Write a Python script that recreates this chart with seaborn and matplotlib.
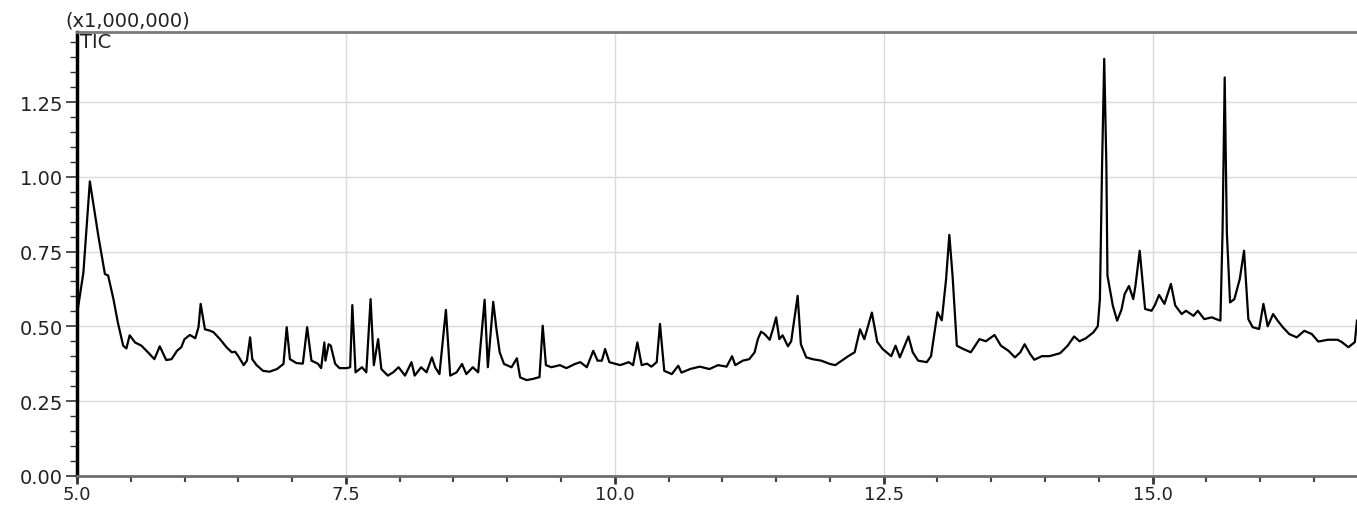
import pandas as pd
import matplotlib.pyplot as plt
from matplotlib.ticker import MultipleLocator, FormatStrFormatter
import seaborn as sns


# retention time (min) and TIC intensity (x1,000,000)
rt = [
    5.00, 5.005, 5.06, 5.12, 5.20, 5.26, 5.29, 5.34, 5.38, 5.43, 5.46, 5.49, 5.54,
    5.60, 5.66, 5.72, 5.77, 5.83, 5.88, 5.93, 5.97, 6.00, 6.05, 6.10, 6.13, 6.15,
    6.19, 6.24, 6.27, 6.33, 6.39, 6.44, 6.47, 6.50, 6.55, 6.58, 6.61, 6.63, 6.67,
    6.73, 6.79, 6.86, 6.92, 6.95, 6.98, 7.04, 7.10, 7.14, 7.18, 7.24, 7.27, 7.30,
    7.31, 7.34, 7.36, 7.40, 7.44, 7.51, 7.54, 7.56, 7.59, 7.65, 7.69, 7.73, 7.76,
    7.80, 7.83, 7.89, 7.94, 7.99, 8.05, 8.11, 8.14, 8.20, 8.25, 8.30, 8.33, 8.37,
    8.43, 8.47, 8.53, 8.58, 8.62, 8.68, 8.73, 8.79, 8.82, 8.87, 8.90, 8.93, 8.97,
    9.04, 9.09, 9.12, 9.18, 9.24, 9.30, 9.33, 9.36, 9.41, 9.49, 9.55, 9.63, 9.68,
    9.74, 9.80, 9.84, 9.88, 9.91, 9.95, 10.05, 10.13, 10.17, 10.21, 10.25, 10.30,
    10.34, 10.39, 10.42, 10.46, 10.53, 10.59, 10.62, 10.70, 10.79, 10.88, 10.96,
    11.04, 11.09, 11.12, 11.19, 11.25, 11.30, 11.33, 11.36, 11.39, 11.44, 11.47,
    11.50, 11.53, 11.56, 11.61, 11.64, 11.70, 11.73, 11.78, 11.84, 11.92, 12.00,
    12.05, 12.11, 12.17, 12.23, 12.28, 12.32, 12.39, 12.44, 12.49, 12.57, 12.61,
    12.65, 12.73, 12.77, 12.82, 12.90, 12.94, 13.00, 13.04, 13.08, 13.11, 13.14,
    13.18, 13.24, 13.31, 13.39, 13.45, 13.53, 13.59, 13.66, 13.72, 13.77, 13.81,
    13.86, 13.90, 13.97, 14.04, 14.14, 14.21, 14.27, 14.32, 14.38, 14.45, 14.49,
    14.51, 14.53, 14.55, 14.57, 14.58, 14.63, 14.67, 14.71, 14.74, 14.78, 14.82,
    14.84, 14.88, 14.93, 14.99, 15.02, 15.06, 15.11, 15.17, 15.21, 15.27, 15.31,
    15.38, 15.42, 15.48, 15.55, 15.59, 15.63, 15.65, 15.67, 15.69, 15.72, 15.76,
    15.81, 15.85, 15.89, 15.93, 15.99, 16.03, 16.07, 16.12, 16.16, 16.21, 16.27,
    16.34, 16.41, 16.48, 16.54, 16.63, 16.72, 16.76, 16.82, 16.88, 16.90,
]
tic = [
    0.700, 0.550, 0.680, 0.985, 0.800, 0.675, 0.670, 0.590, 0.513, 0.435, 0.426, 0.470, 0.446,
    0.435, 0.413, 0.390, 0.433, 0.387, 0.390, 0.418, 0.430, 0.457, 0.471, 0.460, 0.497, 0.575,
    0.490, 0.485, 0.480, 0.457, 0.430, 0.413, 0.415, 0.400, 0.370, 0.385, 0.463, 0.390, 0.370,
    0.351, 0.348, 0.357, 0.374, 0.497, 0.390, 0.377, 0.375, 0.497, 0.385, 0.375, 0.360, 0.446,
    0.385, 0.440, 0.435, 0.375, 0.360, 0.360, 0.363, 0.571, 0.346, 0.363, 0.346, 0.591, 0.370,
    0.457, 0.357, 0.335, 0.346, 0.363, 0.335, 0.380, 0.335, 0.363, 0.346, 0.396, 0.363, 0.340,
    0.555, 0.335, 0.346, 0.374, 0.340, 0.363, 0.346, 0.589, 0.363, 0.582, 0.490, 0.413, 0.374,
    0.363, 0.393, 0.329, 0.320, 0.324, 0.330, 0.502, 0.370, 0.363, 0.370, 0.360, 0.374, 0.380,
    0.363, 0.418, 0.385, 0.385, 0.424, 0.380, 0.370, 0.380, 0.370, 0.446, 0.370, 0.375,
    0.365, 0.380, 0.508, 0.351, 0.340, 0.368, 0.345, 0.357, 0.365, 0.357, 0.370,
    0.365, 0.400, 0.370, 0.385, 0.390, 0.413, 0.457, 0.482, 0.475, 0.455, 0.490,
    0.530, 0.457, 0.470, 0.433, 0.450, 0.602, 0.440, 0.396, 0.390, 0.385, 0.374,
    0.370, 0.385, 0.400, 0.413, 0.490, 0.457, 0.546, 0.448, 0.424, 0.400, 0.435,
    0.396, 0.466, 0.413, 0.385, 0.380, 0.400, 0.547, 0.520, 0.658, 0.806, 0.670,
    0.435, 0.424, 0.413, 0.457, 0.450, 0.471, 0.435, 0.418, 0.396, 0.413, 0.440,
    0.408, 0.388, 0.400, 0.400, 0.410, 0.435, 0.466, 0.450, 0.460, 0.480, 0.500,
    0.591, 1.037, 1.395, 1.040, 0.670, 0.569, 0.519, 0.555, 0.608, 0.635, 0.591,
    0.635, 0.753, 0.558, 0.552, 0.570, 0.605, 0.575, 0.642, 0.570, 0.541, 0.552,
    0.535, 0.552, 0.524, 0.530, 0.524, 0.519, 0.815, 1.333, 0.815, 0.580, 0.591,
    0.658, 0.753, 0.524, 0.497, 0.491, 0.575, 0.500, 0.541, 0.520, 0.497, 0.474,
    0.463, 0.485, 0.474, 0.449, 0.455, 0.455, 0.447, 0.430, 0.447, 0.520,
]

x_major = 2.5
x_minor = 0.5
y_major = 0.25
y_minor = 0.05

df = pd.DataFrame({"rt": rt, "tic": tic})

sns.set_style("white")
plt.rcParams["font.family"] = ["DejaVu Sans"]

fig = plt.figure(figsize=(13.57, 5.06), dpi=100)
ax = fig.add_axes([0.0567, 0.0579, 0.9433, 0.8775])

sns.lineplot(data=df, x="rt", y="tic", ax=ax, color="black", linewidth=1.6,
             estimator=None, sort=False)

ax.set_xlim(5.0, 16.9)
ax.set_ylim(0, 1.486)
ax.set_xlabel("")
ax.set_ylabel("")

ax.xaxis.set_major_locator(MultipleLocator(x_major))
ax.xaxis.set_minor_locator(MultipleLocator(x_minor))
ax.yaxis.set_major_locator(MultipleLocator(y_major))
ax.yaxis.set_minor_locator(MultipleLocator(y_minor))
ax.xaxis.set_major_formatter(FormatStrFormatter("%.1f"))
ax.yaxis.set_major_formatter(FormatStrFormatter("%.2f"))

ax.grid(True, which="major", color="#dadada", linewidth=1)

ax.spines["left"].set_color("black")
ax.spines["left"].set_linewidth(2.5)
ax.spines["bottom"].set_color("#6e6e6e")
ax.spines["bottom"].set_linewidth(2)
ax.spines["top"].set_color("#7a7a7a")
ax.spines["top"].set_linewidth(2)
ax.spines["right"].set_visible(False)

ax.tick_params(axis="y", which="major", direction="out", length=8, width=1.2,
               color="#333333", labelsize=14, labelcolor="#222222", pad=2, left=True)
ax.tick_params(axis="y", which="minor", direction="out", length=5, width=1,
               color="#333333", left=True)
ax.tick_params(axis="x", which="major", direction="out", length=6, width=2,
               color="#333333", labelsize=13, labelcolor="#222222", pad=0.5, bottom=True)
ax.tick_params(axis="x", which="minor", direction="out", length=4, width=1.5,
               color="#444444", bottom=True)

fig.text(65 / 1357, 1 - 21 / 506, "(x1,000,000)", fontsize=14, color="#222222",
         ha="left", va="center")
fig.text(80 / 1357, 1 - 42 / 506, "TIC", fontsize=14, color="#222222",
         ha="left", va="center")

plt.savefig("out.png", dpi=100)
plt.close()
